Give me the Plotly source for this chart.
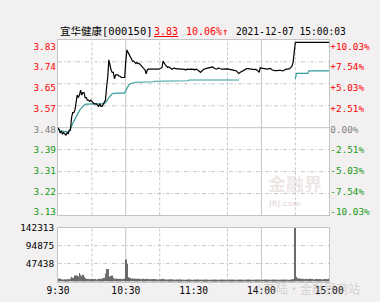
import plotly.graph_objects as go

# ---------------- data ----------------
stock_name = "宜华健康[000150]"
last_price_text = "3.83"
change_text = "10.06%↑"
timestamp_text = "2021-12-07 15:00:03"

prev_close = 3.48
pct_ticks = [10.03, 7.54, 5.03, 2.51, 0.00, -2.51, -5.03, -7.54, -10.03]
price_tick_labels = ["3.83", "3.74", "3.65", "3.57", "3.48", "3.39", "3.31", "3.22", "3.13"]
pct_tick_labels = ["+10.03%", "+7.54%", "+5.03%", "+2.51%", "0.00%",
                   "-2.51%", "-5.03%", "-7.54%", "-10.03%"]

time_tickvals = [0, 60, 120, 180, 240]
time_labels = ["9:30", "10:30", "11:30", "14:00", "15:00"]
vgrid_dashed = [30, 90, 150, 210]
vgrid_solid = [60, 180]

volume_ticks = [47438, 94875, 142313]
volume_tick_labels = ["47438", "94875", "142313"]

minutes = list(range(241))

price = [
    3.48, 3.47, 3.46, 3.465, 3.455, 3.46, 3.455, 3.45, 3.46, 3.455, 3.47, 3.47,
    3.52, 3.54, 3.54, 3.55, 3.58, 3.61, 3.60, 3.61, 3.63, 3.61, 3.62, 3.62, 3.60,
    3.60, 3.59, 3.59, 3.585, 3.59, 3.585, 3.58, 3.575, 3.575, 3.575, 3.57, 3.565, 3.575,
    3.565, 3.565, 3.575, 3.58, 3.59,
    3.64, 3.68, 3.75, 3.72, 3.71, 3.70, 3.70, 3.675, 3.69, 3.69, 3.69, 3.685, 3.685,
    3.68, 3.68, 3.68, 3.68,
    3.745, 3.79, 3.78, 3.77, 3.76, 3.755, 3.745, 3.745, 3.74, 3.735, 3.74, 3.735, 3.735,
    3.73, 3.725, 3.72, 3.715, 3.71, 3.695, 3.71, 3.713,
    3.713, 3.713, 3.71, 3.713, 3.713, 3.71, 3.71, 3.713, 3.713, 3.715, 3.716, 3.719,
    3.745, 3.735, 3.73, 3.725, 3.72, 3.722, 3.718, 3.715,
    3.713, 3.716, 3.718, 3.715, 3.716, 3.714, 3.713, 3.715, 3.713, 3.713, 3.714, 3.712,
    3.71, 3.713, 3.712, 3.713, 3.715, 3.713, 3.712, 3.713,
    3.71, 3.713, 3.712, 3.71, 3.705, 3.70, 3.706, 3.711, 3.713, 3.714, 3.716, 3.716,
    3.718, 3.719, 3.72, 3.72, 3.722, 3.718, 3.715, 3.713, 3.715, 3.718, 3.716, 3.713,
    3.713, 3.713, 3.714, 3.715, 3.715, 3.714, 3.713, 3.713, 3.711, 3.71, 3.709, 3.708,
    3.707, 3.706, 3.70, 3.696, 3.70, 3.703, 3.706, 3.709,
    3.711, 3.713, 3.715, 3.715, 3.714, 3.713, 3.711, 3.71, 3.709, 3.711, 3.713, 3.71,
    3.706, 3.70, 3.719, 3.717, 3.716, 3.715, 3.714, 3.713,
    3.713, 3.714, 3.716, 3.716, 3.712, 3.709, 3.708, 3.707, 3.706, 3.707, 3.708, 3.709,
    3.708, 3.707, 3.706, 3.709, 3.712, 3.713, 3.713, 3.713, 3.715, 3.72, 3.725, 3.74, 3.77,
    3.82, 3.82, 3.82, 3.82, 3.82, 3.82, 3.82, 3.82, 3.82, 3.82, 3.82,
    3.82, 3.82, 3.82, 3.82, 3.82, 3.82, 3.82, 3.82, 3.82, 3.82,
    3.82, 3.82, 3.82, 3.82, 3.82, 3.82, 3.82, 3.82, 3.82, 3.82,
]

avg_price = [
    3.48, 3.472, 3.468, 3.466, 3.465, 3.464, 3.463, 3.463, 3.463, 3.463, 3.466, 3.474,
    3.486, 3.497, 3.506, 3.515, 3.526, 3.533, 3.54, 3.548, 3.555, 3.56, 3.567, 3.571, 3.573,
    3.574, 3.574, 3.574, 3.574, 3.574, 3.574, 3.574, 3.574,
    3.574, 3.574, 3.574, 3.574, 3.574, 3.574, 3.574, 3.574,
    3.576, 3.58, 3.585, 3.592, 3.60, 3.606, 3.611, 3.615, 3.617,
    3.618, 3.618, 3.618, 3.618, 3.618, 3.618, 3.618, 3.618, 3.618, 3.618,
    3.628, 3.638, 3.648, 3.652, 3.655, 3.657, 3.658, 3.659, 3.66,
    3.661, 3.661, 3.661, 3.661, 3.661, 3.661, 3.661,
    3.663, 3.663, 3.663, 3.663, 3.663, 3.663, 3.663, 3.663, 3.663, 3.663,
    3.665, 3.665, 3.665, 3.665, 3.665, 3.665, 3.665, 3.665,
    3.665, 3.665, 3.665, 3.665, 3.665, 3.665, 3.665,
    3.667, 3.667, 3.667, 3.667, 3.667, 3.667, 3.667, 3.667,
    3.667, 3.667, 3.667, 3.667, 3.667, 3.667, 3.667,
    3.67, 3.67, 3.67, 3.67, 3.67, 3.67, 3.67, 3.67, 3.67, 3.67,
    3.67, 3.67, 3.67, 3.67, 3.67, 3.67, 3.67, 3.67, 3.67, 3.67,
    3.67, 3.67, 3.67, 3.67, 3.67, 3.67, 3.67, 3.67, 3.67, 3.67,
    3.67, 3.67, 3.67, 3.67, 3.67, 3.67, 3.67, 3.67, 3.67, 3.67,
    3.67, 3.67, 3.67, 3.67, 3.67,
    None, None, None, None, None, None, None, None, None, None,
    None, None, None, None, None, None, None, None, None, None,
    None, None, None, None, None, None, None, None, None, None,
    None, None, None, None, None, None, None, None, None, None,
    None, None, None, None, None, None, None, None, None,
    3.674,
    3.696, 3.696, 3.696, 3.696, 3.696, 3.696, 3.696, 3.696, 3.696, 3.696, 3.696,
    3.706, 3.706, 3.706, 3.706, 3.706, 3.706, 3.706, 3.706, 3.706, 3.706,
    3.706, 3.706, 3.706, 3.706, 3.706, 3.706, 3.706, 3.706, 3.706,
]

volume = [
    7500, 7000, 7500, 6000, 5000, 5500, 5000, 4500, 5000, 5500, 6000, 8000, 12600,
    10000, 9000, 16000, 12000, 16000, 13000, 22700, 17700, 14000, 17700, 12600, 8000,
    7000, 6500, 7500, 6000, 6000, 6500, 5500, 6000, 6500, 5500, 6000, 7000, 6000, 6500,
    7000, 8000,
    10000, 21000, 32800, 32800, 12600, 9000, 14300, 16000, 10000, 7500,
    7000, 7500, 6500, 6500, 7000, 6000, 6500, 7000, 7500,
    58000, 46000, 11000, 10000, 9000, 7500, 8500, 7000, 7500, 6500, 7000,
    6000, 7000, 6500, 6000, 7000, 6500, 6000, 5500, 7000, 6000, 6500, 6000, 5500, 6000,
    6500, 5500, 6000, 5000, 5500, 6000, 5500, 5000,
    7500, 5500, 5000, 5500, 5000, 4500, 5000, 5500, 5000, 4500, 5000, 4500, 5000, 4500,
    4000, 5000, 4500, 4500, 5000, 4000, 4500, 4500, 4000, 5000, 4500, 4000, 4500, 4000,
    4500, 4000, 4500, 5000, 4000, 5500, 4500, 4000, 4500, 4000,
    4000, 4500, 4000, 3500, 4000, 4500, 4000, 4000, 3500, 4000,
    4500, 4000, 3500, 4000, 4000, 4500, 3500, 4000, 4000, 3500,
    4000, 4500, 4000, 3500, 4000, 4000, 4500, 4000, 3500, 4000,
    4000, 3500, 4000, 4500, 4000, 4000, 3500, 4000, 4500, 4000,
    3500, 4000, 4000, 4500, 4000, 3500, 4000, 4000, 3500, 4000,
    4500, 4000, 4000, 3500, 4000, 4500, 4000, 3500, 4000, 4000,
    4500, 4000, 3500, 4000, 4000, 4500, 4000, 3500, 4000, 4500,
    4000, 4500, 5000, 4500, 4000, 4500, 5000, 5500, 6500,
    142313,
    12600, 8500, 8000, 7500, 6500, 7000, 6500, 6000, 7000, 6500,
    6000, 6500, 7000, 6000, 6500, 6000, 5500, 6500, 6000, 6000,
    5500, 6500, 6000, 5500, 6000, 6500, 6000, 5500, 6000, 7000,
]

# ---------------- styling ----------------
RED = "#ff0000"
GREEN = "#149a14"
GRAY = "#808080"
GRID = "#c8c8c8"
BORDER = "#c4c4c4"
FONT = "DejaVu Sans Mono, Noto Sans CJK SC"

W, H = 380, 302
X0, X1 = 49.5 / W, 341.5 / W
MAIN_TOP, MAIN_BOT = 35, 215
VOL_TOP, VOL_BOT = 227.7, 283

grid_vals = [prev_close * (1 + p / 100) for p in pct_ticks]
y_lo, y_hi = min(grid_vals), max(grid_vals)
# label axis: the labels are drawn slightly inset from the grid lines
k = (y_hi - y_lo) / 170.2
lab_range = [y_lo - 3.3 * k, y_hi + 6.5 * k]


def colour_for(p):
    if p > 0:
        return RED
    if p < 0:
        return GREEN
    return GRAY


left_text = [f"<span style='color:{colour_for(p)}'>{t}</span>"
             for p, t in zip(pct_ticks, price_tick_labels)]
right_text = [f"<span style='color:{colour_for(p)}'>{t}</span>"
              for p, t in zip(pct_ticks, pct_tick_labels)]

fig = go.Figure()
fig.add_trace(go.Scatter(x=minutes, y=avg_price, mode="lines", connectgaps=False,
                         line=dict(color="#369c9c", width=1.2),
                         xaxis="x", yaxis="y", hoverinfo="skip"))
fig.add_trace(go.Scatter(x=minutes, y=price, mode="lines",
                         line=dict(color="#000000", width=1.2),
                         xaxis="x", yaxis="y"))
fig.add_trace(go.Bar(x=minutes, y=volume, marker=dict(color="#6a6a6a", line=dict(width=0)),
                     xaxis="x2", yaxis="y2"))
# invisible helpers so the label axes are drawn
fig.add_trace(go.Scatter(x=[minutes[0]], y=[prev_close], mode="markers",
                         marker=dict(opacity=0), xaxis="x", yaxis="y3", hoverinfo="skip"))
fig.add_trace(go.Scatter(x=[minutes[0]], y=[prev_close], mode="markers",
                         marker=dict(opacity=0), xaxis="x", yaxis="y4", hoverinfo="skip"))

shapes = []
hdash = "4px,2px,1px,2px"
vdash = "3px,2px"
for v, p in zip(grid_vals, pct_ticks):
    if abs(p) >= 10:
        continue
    shapes.append(dict(type="line", xref="x", yref="y", x0=minutes[0], x1=minutes[-1],
                       y0=v, y1=v, layer="below",
                       line=dict(color=BORDER if p == 0 else GRID, width=1,
                                 dash="solid" if p == 0 else hdash)))
for v in volume_ticks[:-1]:
    shapes.append(dict(type="line", xref="x2", yref="y2", x0=minutes[0], x1=minutes[-1],
                       y0=v, y1=v, layer="below",
                       line=dict(color=GRID, width=1, dash=hdash)))
for xa, ya in (("x", "y domain"), ("x2", "y2 domain")):
    for m in vgrid_dashed:
        shapes.append(dict(type="line", xref=xa, yref=ya, x0=m, x1=m, y0=0, y1=1,
                           layer="below", line=dict(color=GRID, width=1, dash=vdash)))
    for m in vgrid_solid:
        shapes.append(dict(type="line", xref=xa, yref=ya, x0=m, x1=m, y0=0, y1=1,
                           layer="below", line=dict(color=BORDER, width=1)))


def py(y):
    return 1 - y / H


annotations = [
    dict(text=stock_name, x=50 / W, y=py(26), xanchor="left", yanchor="middle",
         font=dict(family=FONT, size=10.5, color="#000000")),
    dict(text=f"<u>{last_price_text}</u>", x=151 / W, y=py(26), xanchor="left",
         yanchor="middle", font=dict(family=FONT, size=10, color=RED)),
    dict(text=change_text, x=185 / W, y=py(26), xanchor="left", yanchor="middle",
         font=dict(family=FONT, size=10, color=RED)),
    dict(text=timestamp_text, x=239 / W, y=py(26), xanchor="left", yanchor="middle",
         font=dict(family=FONT, size=9.6, color="#000000")),
    dict(text="<b>金融界</b>", x=305 / W, y=py(182), xanchor="center", yanchor="middle",
         font=dict(family="Noto Sans CJK SC", size=18, color="rgba(205,175,175,0.33)")),
    dict(text="<b>JRJ.com</b>", x=293 / W, y=py(203), xanchor="center", yanchor="middle",
         font=dict(family="DejaVu Sans", size=7.5, color="rgba(205,175,175,0.4)")),
    dict(text="©西陆·金融界网站", x=318 / W, y=py(290), xanchor="center", yanchor="middle",
         font=dict(family="Noto Sans CJK SC", size=12, color="rgba(170,170,170,0.45)")),
]
for a in annotations:
    a.update(xref="paper", yref="paper", showarrow=False)

axis_common = dict(showgrid=False, zeroline=False, fixedrange=True)
fig.update_layout(
    width=W, height=H, autosize=False,
    margin=dict(l=0, r=0, t=0, b=0, pad=0),
    paper_bgcolor="#f2f0f0", plot_bgcolor="#ffffff",
    showlegend=False, bargap=0.3,
    xaxis=dict(domain=[X0, X1], range=[minutes[0], minutes[-1]], anchor="y",
               showticklabels=False, ticks="", showline=True, mirror=True,
               linecolor=BORDER, linewidth=1, **axis_common),
    yaxis=dict(domain=[py(MAIN_BOT), py(MAIN_TOP)], range=[y_lo, y_hi], anchor="x",
               showticklabels=False, ticks="", showline=True, mirror=True,
               linecolor=BORDER, linewidth=1, **axis_common),
    yaxis3=dict(overlaying="y", anchor="x", side="left", range=lab_range,
                tickvals=grid_vals, ticktext=left_text, ticks="", showline=False,
                ticklabelstandoff=1,
                tickfont=dict(family=FONT, size=9.4, color="#000000"), **axis_common),
    yaxis4=dict(overlaying="y", anchor="x", side="right", range=lab_range,
                tickvals=grid_vals, ticktext=right_text, ticks="", showline=False,
                ticklabelstandoff=0,
                tickfont=dict(family=FONT, size=9.4, color="#000000"), **axis_common),
    xaxis2=dict(domain=[X0, X1], range=[minutes[0], minutes[-1]], anchor="y2",
                tickvals=time_tickvals, ticktext=time_labels, ticks="",
                showline=True, mirror=True, linecolor=BORDER, linewidth=1,
                tickfont=dict(family=FONT, size=9.6, color="#000000"), **axis_common),
    yaxis2=dict(domain=[py(VOL_BOT), py(VOL_TOP)], range=[0, volume_ticks[-1]],
                anchor="x2", tickvals=volume_ticks, ticktext=volume_tick_labels,
                ticks="", showline=True, mirror=True, linecolor=BORDER, linewidth=1,
                ticklabelstandoff=1,
                tickfont=dict(family=FONT, size=9.4, color="#000000"), **axis_common),
    shapes=shapes,
    annotations=annotations,
)

fig.write_html("out.html")
